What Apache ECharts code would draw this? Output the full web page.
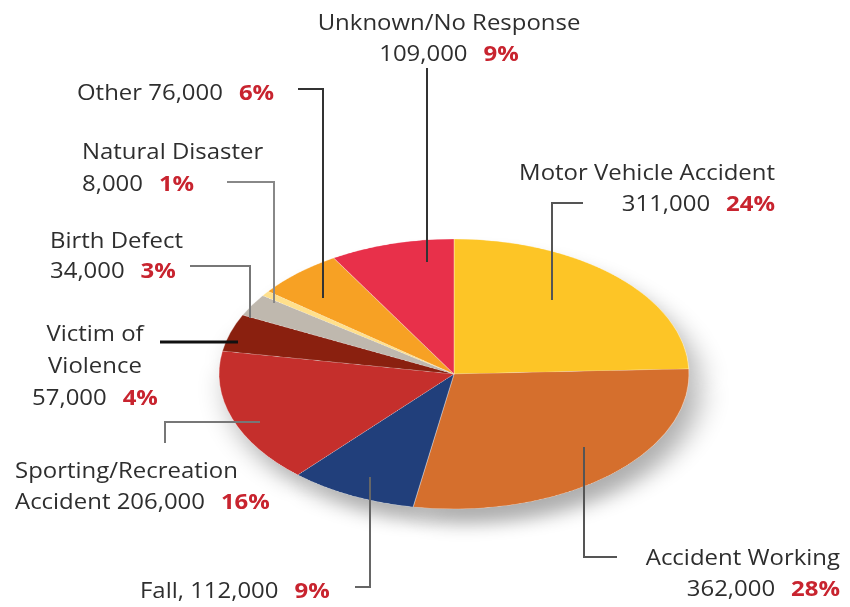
<!DOCTYPE html>
<html>
<head>
<meta charset="utf-8">
<script src="https://cdn.jsdelivr.net/npm/echarts@6/dist/echarts.min.js"></script>
<style>
  html, body { margin: 0; padding: 0; background: #fff; }
  #wrap { position: relative; width: 850px; height: 607px; overflow: hidden; }
  #pie { position: absolute; left: 0; top: 0; width: 850px; height: 900px;
         transform: scaleY(0.5745); transform-origin: 0 374px; }
  #labels { position: absolute; left: 0; top: 0; width: 850px; height: 607px; }
</style>
</head>
<body>
<div id="wrap">
  <div id="pie"></div>
  <div id="labels"></div>
</div>
<script>
// ---- data (clockwise from 12 o'clock) ----
const categories = ['Motor Vehicle Accident', 'Accident Working', 'Fall', 'Sporting/Recreation Accident',
  'Victim of Violence', 'Birth Defect', 'Natural Disaster', 'Other', 'Unknown/No Response'];
const values = [311000, 362000, 112000, 206000, 57000, 34000, 8000, 76000, 109000];
const percents = [24, 28, 9, 16, 4, 3, 1, 6, 9];
// how each label's name part is written in the picture
const labelPrefixes = ['Motor Vehicle Accident\n', 'Accident Working\n', 'Fall, ', 'Sporting/Recreation\nAccident ',
  'Victim of\nViolence\n', 'Birth Defect\n', 'Natural Disaster\n', 'Other ', 'Unknown/No Response\n'];
const colors = ['#FDC526', '#D56F2D', '#213F7B', '#C52F2C', '#8A200F', '#BFB8AE', '#FFE08C', '#F7A124', '#E8304A'];

const pieData = categories.map((c, i) => ({ name: c, value: values[i], itemStyle: { color: colors[i] } }));

const pieChart = echarts.init(document.getElementById('pie'), null, { renderer: 'canvas' });
pieChart.setOption({
  animation: false,
  series: [
    { // soft drop shadow underneath
      type: 'pie', silent: true, center: [454, 374], radius: 235, startAngle: 90, clockwise: true,
      label: { show: false }, labelLine: { show: false }, z: 1,
      data: categories.map((c, i) => ({ name: c, value: values[i] })),
      itemStyle: { color: '#ffffff', borderWidth: 0, shadowBlur: 30, shadowColor: 'rgba(0,0,0,0.32)',
                   shadowOffsetX: 10, shadowOffsetY: 26 }
    },
    {
      type: 'pie', silent: true, center: [454, 374], radius: 235, startAngle: 90, clockwise: true,
      label: { show: false }, labelLine: { show: false }, z: 2,
      itemStyle: { borderWidth: 0.8, borderColor: 'rgba(255,255,255,0.45)' },
      data: pieData
    }
  ]
});

// ---- labels overlay ----
function fmt(v) { return v.toLocaleString('en-US'); }
function labelText(i) {
  const parts = (labelPrefixes[i] + fmt(values[i])).split('\n');
  return parts.map((p, k) => k === parts.length - 1
      ? '{t|' + p + '}{g|}{p|' + percents[i] + '%}'
      : '{t|' + p + '}').join('\n');
}
const FONT = '"Open Sans", "Noto Sans", sans-serif';
const rich = {
  t: { fontFamily: FONT, fontSize: 21, fill: '#2e2e2e' },
  g: { fontFamily: FONT, fontSize: 21, width: 14 },
  p: { fontFamily: FONT, fontSize: 21, fontWeight: 'bold', fill: '#C8242F' }
};
// label anchor: [index, x, yTop, align, lineHeight]
const labelPlace = [
  [0, 775, 159, 'right', 31],
  [1, 840, 544, 'right', 31],
  [2, 140, 577, 'left', 31],
  [3, 15, 457, 'left', 31],
  [4, 95, 319, 'center', 32],
  [5, 50, 227, 'left', 30],
  [6, 82, 137, 'left', 32],
  [7, 77, 79, 'left', 31],
  [8, 449, 9, 'center', 31]
];
const texts = labelPlace.map(([i, x, y, align, lh]) => {
  const r = {};
  Object.keys(rich).forEach(k => r[k] = Object.assign({ lineHeight: lh }, rich[k]));
  return { type: 'text', x: x, y: y, z: 10, scaleX: 1.14,
    style: { text: labelText(i), rich: r, align: align, verticalAlign: 'top' } };
});
const lines = [
  { pts: [[583, 203], [552, 203], [552, 300]], c: '#555', w: 2 },
  { pts: [[617, 557], [584, 557], [584, 447]], c: '#555', w: 2 },
  { pts: [[355, 587], [370, 587], [370, 477]], c: '#666', w: 2 },
  { pts: [[165, 443], [165, 422], [260, 422]], c: '#777', w: 2 },
  { pts: [[160, 342], [238, 342]], c: '#111', w: 3 },
  { pts: [[190, 266], [250, 266], [250, 318]], c: '#777', w: 2 },
  { pts: [[227, 182], [274, 182], [274, 303]], c: '#888', w: 2 },
  { pts: [[298, 89], [323, 89], [323, 298]], c: '#333', w: 2 },
  { pts: [[427, 68], [427, 262]], c: '#333', w: 2 }
].map(l => ({ type: 'polyline', z: 5, shape: { points: l.pts },
  style: { stroke: l.c, lineWidth: l.w, fill: null } }));

const labelChart = echarts.init(document.getElementById('labels'), null, { renderer: 'canvas' });
labelChart.setOption({
  animation: false,
  graphic: { elements: lines.concat(texts) }
});
</script>
</body>
</html>
